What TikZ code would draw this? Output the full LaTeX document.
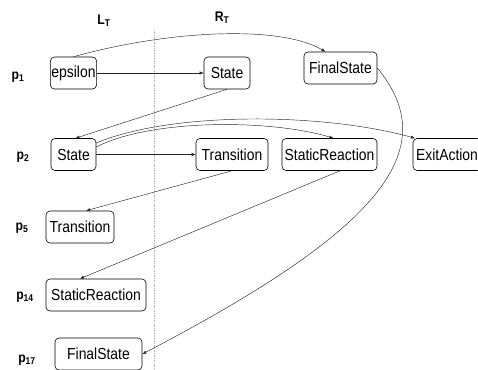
\documentclass[tikz,border=0pt]{standalone}
\usepackage{fontspec}
\setmainfont[FakeStretch=0.87]{Liberation Sans}
\usetikzlibrary{arrows.meta}

\begin{document}
\begin{tikzpicture}[x=1pt, y=-1pt,
    box/.style={draw, rounded corners=4pt, line width=0.6pt, minimum width=#1,
                minimum height=32pt, inner sep=1pt, font=\fontsize{16}{18}\selectfont},
    box/.default=45pt,
    msg/.style={-{Latex[length=4pt, width=3.2pt]}, line width=0.45pt, black!85},
    lbl/.style={font=\bfseries\fontsize{14}{16}\selectfont},
]
    \useasboundingbox (0,0) rectangle (478,369);

    % Column headers and separator
    \node[lbl] (lt) at (104, 21) {L\textsubscript{T}};
    \node[lbl] (rt) at (222, 18) {R\textsubscript{T}};
    \draw[gray!60, line width=0.6pt, dash pattern=on 1.5pt off 1pt] (154.5, 30) -- (154.5, 369);

    % Row labels
    \node[lbl] (p1) at (18, 77) {p\textsubscript{1}};
    \node[lbl] (p2) at (23, 157) {p\textsubscript{2}};
    \node[lbl] (p5) at (22, 228) {p\textsubscript{5}};
    \node[lbl] (p14) at (25, 297) {p\textsubscript{14}};
    \node[lbl] (p17) at (27, 360) {p\textsubscript{17}};

    % Left-hand side
    \node[box] (eps) at (73.5, 73) {epsilon};
    \node[box] (st2) at (73.5, 154.5) {State};
    \node[box=68pt] (tr5) at (80, 227) {Transition};
    \node[box=100pt] (sr14) at (96, 295) {StaticReaction};
    \node[box=87pt] (fs17) at (98.5, 354) {FinalState};

    % Right-hand side
    \node[box=46pt] (st1) at (227, 73) {State};
    \node[box=73pt] (fs1) at (340.5, 68) {FinalState};
    \node[box=72pt] (tr2) at (232, 154.5) {Transition};
    \node[box=95pt] (sr2) at (329.5, 154.5) {StaticReaction};
    \node[box=68pt] (ea) at (447, 154.5) {ExitAction};

    % Mappings
    \draw[msg] (eps) -- (st1);
    \draw[msg] (eps.north) .. controls (170, 30) and (280, 25) .. ([xshift=-15pt]fs1.north);
    \draw[msg] (st1.south) -- ([xshift=2pt]st2.north);
    \draw[msg] (st2) -- (tr2);
    \draw[msg] ([yshift=11.5pt]st2.east) .. controls (170, 112) and (320, 112) .. ([xshift=-32pt]ea.north);
    \draw[msg] ([yshift=7.5pt]st2.east) .. controls (150, 119) and (270, 119) .. ([xshift=4pt]sr2.north);
    \draw[msg] (tr2.south) -- ([xshift=6pt]tr5.north);
    \draw[msg] ([xshift=10.5pt]sr2.south) -- ([xshift=-16pt]sr14.north);
    \draw[msg] (fs1.east) .. controls (445, 150) and (380, 230) .. (fs17.east);
\end{tikzpicture}
\end{document}
